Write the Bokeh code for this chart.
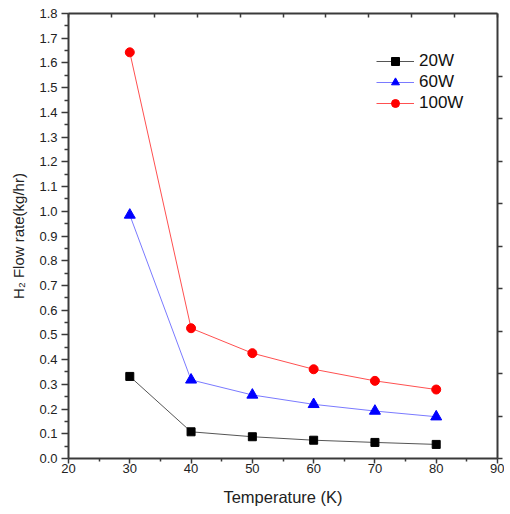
from bokeh.plotting import figure
from bokeh.models import Range1d, LinearAxis, FixedTicker, Legend, LegendItem, NumeralTickFormatter
from bokeh.embed import file_html
from bokeh.resources import INLINE

temps = [30, 40, 50, 60, 70, 80]
flow_20w = [0.332, 0.108, 0.088, 0.074, 0.065, 0.057]
flow_60w = [0.985, 0.318, 0.257, 0.219, 0.192, 0.169]
flow_100w = [1.643, 0.527, 0.426, 0.361, 0.314, 0.279]
series_labels = ["20W", "60W", "100W"]

x_ticks = [20, 30, 40, 50, 60, 70, 80, 90]
x_minor = [25, 35, 45, 55, 65, 75, 85]
y_ticks = [round(i * 0.1, 1) for i in range(19)]
y_minor = [round(0.05 + i * 0.1, 2) for i in range(18)]
frame_ticks = [0, 0.5, 1, 1.5, 2, 2.5, 3, 3.5, 4, 4.5, 5]

FONT = "Liberation Sans"
AX = "#3a3a3a"

p = figure(frame_width=429, frame_height=445,
           x_range=Range1d(20, 90), y_range=Range1d(0, 1.8),
           output_backend="svg", toolbar_location=None,
           min_border_left=68, min_border_top=13, min_border_right=7, min_border_bottom=40,
           x_axis_location="below", y_axis_location="left")
p.outline_line_color = None
p.xgrid.visible = False
p.ygrid.visible = False
p.background_fill_color = "white"
p.border_fill_color = "white"

# bottom axis
xa = p.xaxis[0]
xa.ticker = FixedTicker(ticks=x_ticks, minor_ticks=x_minor)
xa.axis_label = "Temperature (K)"
xa.axis_label_text_font = FONT
xa.axis_label_text_font_size = "16.5px"
xa.axis_label_text_font_style = "normal"
xa.axis_label_text_color = "#222222"
xa.axis_label_standoff = 12
xa.major_label_text_font = FONT
xa.major_label_text_font_size = "13px"
xa.major_label_text_color = "#222222"
xa.major_label_standoff = 0
xa.major_tick_out = 5
xa.major_tick_in = 0
xa.minor_tick_out = 3
xa.minor_tick_in = 0

# left axis
ya = p.yaxis[0]
ya.ticker = FixedTicker(ticks=y_ticks, minor_ticks=y_minor)
ya.formatter = NumeralTickFormatter(format="0.0")
ya.axis_label = "H\u2082 Flow rate(kg/hr)"
ya.axis_label_text_font = FONT
ya.axis_label_text_font_size = "15px"
ya.axis_label_text_font_style = "normal"
ya.axis_label_text_color = "#222222"
ya.axis_label_standoff = 9
ya.major_label_text_font = FONT
ya.major_label_text_font_size = "13px"
ya.major_label_text_color = "#222222"
ya.major_label_standoff = 4
ya.major_tick_out = 7
ya.major_tick_in = 0
ya.minor_tick_out = 4
ya.minor_tick_in = 0

for ax in (xa, ya):
    ax.axis_line_color = AX
    ax.axis_line_width = 2
    ax.major_tick_line_color = AX
    ax.minor_tick_line_color = AX
    ax.major_tick_line_width = 1.5
    ax.minor_tick_line_width = 1.5

# top and right mirrored frame axes (tick marks only, no labels)
p.extra_x_ranges = {"top": Range1d(0, 5)}
p.extra_y_ranges = {"right": Range1d(0, 5.243)}
top = LinearAxis(x_range_name="top", ticker=FixedTicker(ticks=[], minor_ticks=frame_ticks))
top.minor_tick_in = 4
top.minor_tick_out = 0
top.major_tick_in = 0
top.major_tick_out = 0
right = LinearAxis(y_range_name="right", ticker=FixedTicker(ticks=[], minor_ticks=frame_ticks[:-1]))
right.minor_tick_out = 5
right.minor_tick_in = 0
right.major_tick_in = 0
right.major_tick_out = 7
for ax in (top, right):
    ax.axis_line_color = AX
    ax.axis_line_width = 2
    ax.minor_tick_line_color = AX
    ax.minor_tick_line_width = 1.5
p.add_layout(top, "above")
p.add_layout(right, "right")

# series
l1 = p.line(temps, flow_20w, line_color="#555555", line_width=1)
m1 = p.scatter(temps, flow_20w, marker="square", size=8, fill_color="black", line_color="black")
l2 = p.line(temps, flow_60w, line_color="#7a7aff", line_width=1)
m2 = p.scatter(temps, flow_60w, marker="triangle", size=11, fill_color="#0000ff", line_color="#0000ff")
l3 = p.line(temps, flow_100w, line_color="#ff5050", line_width=1)
m3 = p.scatter(temps, flow_100w, marker="circle", size=9, fill_color="#ff0000", line_color="#ff0000")

legend = Legend(items=[LegendItem(label=series_labels[0], renderers=[l1, m1]),
                       LegendItem(label=series_labels[1], renderers=[l2, m2]),
                       LegendItem(label=series_labels[2], renderers=[l3, m3])],
                location=(308, 345))
legend.border_line_color = None
legend.background_fill_alpha = 0
legend.padding = 0
legend.margin = 0
legend.spacing = 1
legend.glyph_width = 38
legend.glyph_height = 20
legend.label_height = 20
legend.label_standoff = 5
legend.label_text_font = FONT
legend.label_text_font_size = "17px"
legend.label_text_color = "#111111"
p.add_layout(legend, "center")

open("out.html", "w").write(file_html(p, INLINE))
